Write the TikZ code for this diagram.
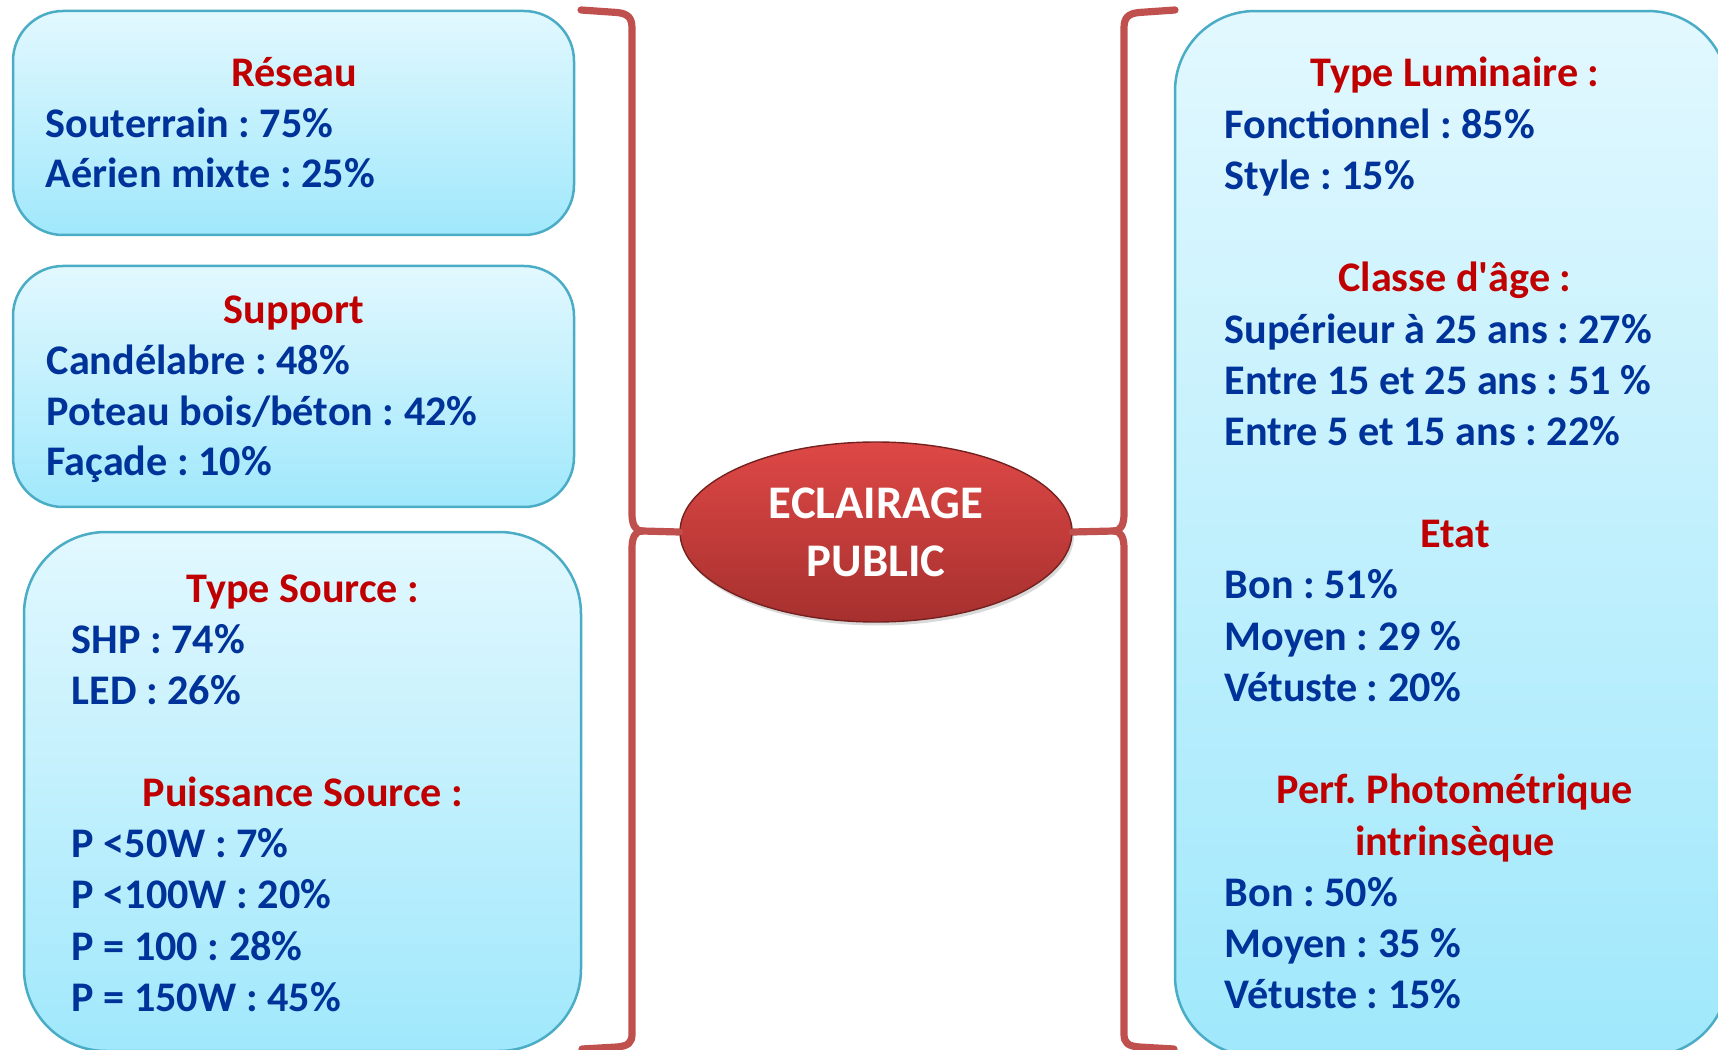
\documentclass[tikz,border=0pt]{standalone}
\usepackage{fontspec}
\setmainfont{Carlito}
\usetikzlibrary{shapes.geometric,shadows}
\definecolor{bordcyan}{RGB}{75,172,198}
\definecolor{fondhaut}{RGB}{226,248,254}
\definecolor{fondbas}{RGB}{160,232,252}
\definecolor{titrerouge}{RGB}{192,0,0}
\definecolor{textebleu}{RGB}{0,51,153}
\definecolor{accolade}{RGB}{192,80,77}
\definecolor{ovalhaut}{RGB}{222,72,70}
\definecolor{ovalbas}{RGB}{166,48,46}
\frenchspacing

\begin{document}
\begin{tikzpicture}[x=0.1mm,y=-0.1mm,
	cadre/.style={draw=bordcyan,line width=0.25mm,top color=fondhaut,bottom color=fondbas,inner sep=0pt},
	titre/.style={anchor=base,inner sep=0pt,text=titrerouge,font=\bfseries\fontsize{12pt}{14.6pt}\selectfont},
	ligne/.style={anchor=base west,inner sep=0pt,text=textebleu,font=\bfseries\fontsize{12pt}{14.6pt}\selectfont},
	accol/.style={draw=accolade,line width=0.72mm,line cap=round,line join=round}]
			%\draw[help lines] (0,0) grid[step=100] (1718,1050);
			\useasboundingbox (0,0) rectangle (1718,1050);
			\clip (0,0) rectangle (1718,1050);

			% les cadres
			\node[cadre,rounded corners=5mm,minimum width=56.1mm,minimum height=22.4mm] (reseau) at (293.5,123) {};
			\node[cadre,rounded corners=5mm,minimum width=56.1mm,minimum height=24.1mm] (support) at (293.5,386.5) {};
			\node[cadre,rounded corners=8.2mm,minimum width=55.7mm,minimum height=51.9mm] (source) at (302.5,791.5) {};
			\node[cadre,rounded corners=8mm,minimum width=55.3mm,minimum height=104.5mm] (luminaire) at (1451.5,533.5) {};

			% accolades
			\coordinate (g-pointe) at (642,531);
			\coordinate (d-pointe) at (1114,531);
			\draw[accol] (581,10) -- (617,12.5) .. controls (628,13.5) and (632,18) .. (632,28) -- (632,514) .. controls (632,524) and (635,531) .. (g-pointe);
			\draw[accol] (g-pointe) .. controls (635,531) and (632,538) .. (632,548) -- (632,1034) .. controls (632,1043) and (628,1046) .. (617,1047) -- (582,1049);
			\draw[accol] (1175,10) -- (1139,12.5) .. controls (1128,13.5) and (1124,18) .. (1124,28) -- (1124,514) .. controls (1124,524) and (1121,531) .. (d-pointe);
			\draw[accol] (d-pointe) .. controls (1121,531) and (1124,538) .. (1124,548) -- (1124,1034) .. controls (1124,1043) and (1128,1046) .. (1139,1047) -- (1174,1049);

			\node[ellipse,minimum width=39.2mm,minimum height=18mm,inner sep=0pt,top color=ovalhaut,bottom color=ovalbas,
				draw=ovalbas!70!black,line width=0.4pt,drop shadow={opacity=0.3,shadow xshift=0.2mm,shadow yshift=-0.35mm},
				text=white,align=center,font=\bfseries\fontsize{13.3pt}{16.5pt}\selectfont] (eclairage) at (876,532) {ECLAIRAGE\\PUBLIC};
			\draw[accol] (g-pointe) -- (eclairage.west);
			\draw[accol] (d-pointe) -- (eclairage.east);

			% reseau
			\node[titre] (reseau-t) at (294,87) {Réseau};
			\foreach \txt [count=\k] in {Souterrain : 75\%,Aérien mixte : 25\%}
				\node[ligne] (reseau-\k) at (45,87+50.5*\k) {\txt};
			% support
			\node[titre] (support-t) at (294,323.5) {Support};
			\foreach \txt [count=\k] in {Candélabre : 48\%,Poteau bois/béton : 42\%,Façade : 10\%}
				\node[ligne] (support-\k) at (46,323.5+50.8*\k) {\txt};
			% source
			\node[titre] (type-t) at (303,602) {Type Source :};
			\foreach \txt [count=\k] in {SHP : 74\%,LED : 26\%}
				\node[ligne] (type-\k) at (71,602+51*\k) {\txt};
			\node[titre] (puiss-t) at (303,806.5) {Puissance Source :};
			\foreach \txt [count=\k] in {P <50W : 7\%,P <100W : 20\%,P = 100 : 28\%,P = 150W : 45\%}
				\node[ligne] (puiss-\k) at (71,806.5+51.2*\k) {\txt};
			% luminaire
			\node[titre] (lum-t) at (1455,87) {Type Luminaire :};
			\foreach \txt [count=\k] in {Fonctionnel : 85\%,Style : 15\%}
				\node[ligne] (lum-\k) at (1224,87+51.2*\k) {\txt};
			\node[titre] (age-t) at (1455,291.8) {Classe d\textquotesingle âge :};
			\foreach \txt [count=\k] in {Supérieur à 25 ans : 27\%,Entre 15 et 25 ans : 51 \%,Entre 5 et 15 ans : 22\%}
				\node[ligne] (age-\k) at (1224,291.8+51.2*\k) {\txt};
			\node[titre] (etat-t) at (1455,547.8) {Etat};
			\foreach \txt [count=\k] in {Bon : 51\%,Moyen : 29 \%,Vétuste : 20\%}
				\node[ligne] (etat-\k) at (1224,547.8+51.2*\k) {\txt};
			\node[titre] (perf-t) at (1455,803.8) {Perf. Photométrique};
			\node[titre] (perf-t2) at (1455,855) {intrinsèque};
			\foreach \txt [count=\k] in {Bon : 50\%,Moyen : 35 \%,Vétuste : 15\%}
				\node[ligne] (perf-\k) at (1224,855+51.2*\k) {\txt};
\end{tikzpicture}
\end{document}
